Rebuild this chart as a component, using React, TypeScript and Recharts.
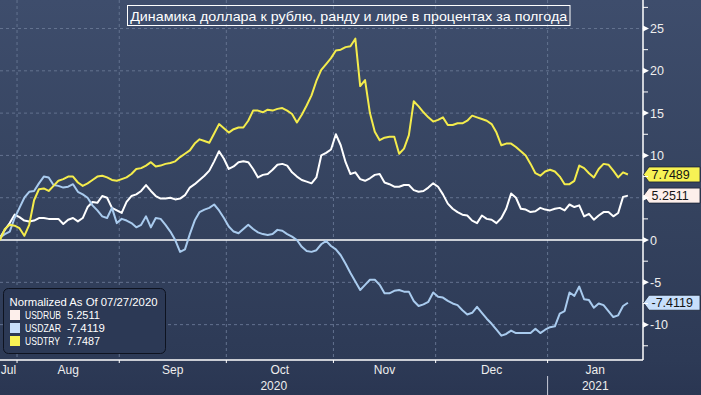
import { LineChart, Line, XAxis, YAxis, CartesianGrid, ReferenceLine, ReferenceDot, Legend } from 'recharts';

// trading-day index, 0 = 28 Jul 2020 (normalized as of 27 Jul)
const days = Array.from({ length: 130 }, (_, i) => i);

const usdRub = [
    0.3, 1.2, 2.0, 3.0, 2.7, 2.3, 2.2, 2.3, 2.6, 2.6,
    2.5, 2.5, 2.5, 1.9, 2.4, 2.6, 2.2, 2.6, 3.9, 4.5,
    4.4, 5.2, 5.0, 3.8, 3.5, 3.2, 4.5, 5.2, 5.4, 5.8,
    6.5, 5.8, 5.2, 4.9, 4.9, 5.0, 4.8, 4.9, 5.3, 6.2,
    6.6, 7.1, 7.6, 8.2, 9.3, 10.5, 9.6, 8.4, 8.7, 9.2,
    9.3, 9.2, 8.4, 7.4, 7.7, 7.8, 8.3, 8.9, 9.0, 8.8,
    8.0, 7.5, 7.1, 6.9, 6.7, 7.4, 10.0, 10.3, 10.7, 12.5,
    11.2, 9.2, 7.8, 8.0, 7.2, 7.0, 7.3, 7.7, 7.8, 6.8,
    6.6, 6.3, 6.3, 6.5, 6.5, 5.9, 5.7, 5.8, 6.2, 6.7,
    6.3, 5.4, 4.3, 3.7, 3.3, 3.0, 2.9, 2.3, 2.0, 2.9,
    2.5, 2.4, 2.0, 2.6, 3.7, 5.5, 5.0, 3.7, 3.6, 3.3,
    3.4, 3.8, 3.6, 3.5, 3.7, 3.8, 3.5, 4.2, 3.9, 4.1,
    2.8, 3.1, 2.4, 2.9, 3.3, 3.3, 2.8, 3.2, 5.1, 5.2511,
];

const usdZar = [
    0.3, 0.7, 1.0, 2.6, 3.8, 5.0, 5.7, 5.8, 6.7, 7.5,
    7.4, 6.5, 6.4, 6.2, 6.3, 6.6, 5.7, 5.4, 5.0, 4.1,
    3.5, 2.8, 2.6, 3.8, 2.0, 2.5, 2.3, 2.0, 1.5, 1.8,
    2.8, 1.5, 2.6, 2.5, 1.8, 1.0, 0.0, -1.4, -1.1, 0.7,
    2.3, 3.3, 3.6, 3.8, 4.2, 3.5, 2.6, 1.6, 1.0, 0.8,
    1.3, 1.8, 1.3, 0.9, 0.7, 0.6, 0.7, 1.2, 1.1, 0.7,
    0.4, 0.0, -0.8, -1.3, -1.4, -1.2, -0.5, -0.1, -0.7, -1.1,
    -1.8, -2.8, -3.9, -4.9, -5.9, -5.3, -4.7, -4.7, -5.3, -6.3,
    -6.3, -6.0, -5.9, -6.1, -6.1, -7.2, -7.8, -7.6, -7.3, -6.2,
    -6.7, -6.8, -7.2, -7.5, -7.7, -8.3, -8.8, -8.6, -7.9, -8.6,
    -9.3, -9.9, -10.6, -11.3, -11.1, -10.7, -11.0, -11.0, -11.0, -11.0,
    -10.5, -11.0, -10.6, -10.3, -10.2, -8.7, -8.4, -6.2, -6.6, -5.5,
    -7.0, -7.1, -8.0, -7.5, -7.7, -8.4, -9.1, -8.9, -7.8, -7.4119,
];

const usdTry = [
    0.0, 1.3, 1.8, 1.7, 1.4, 0.5, 1.8, 4.7, 6.0, 6.1,
    5.8, 6.4, 7.0, 7.2, 7.5, 7.5, 6.8, 6.4, 6.7, 7.1,
    7.5, 7.6, 7.4, 7.1, 7.0, 7.2, 7.4, 7.8, 8.4, 8.5,
    8.8, 9.2, 8.7, 8.8, 9.0, 9.1, 9.3, 9.8, 10.2, 10.6,
    11.4, 11.9, 11.7, 11.5, 12.6, 13.7, 13.2, 12.7, 13.1, 13.3,
    13.3, 14.1, 15.3, 15.3, 15.1, 15.4, 15.3, 15.5, 15.6, 15.3,
    14.9, 13.9, 14.8, 15.9, 17.1, 18.8, 20.1, 20.8, 21.5, 22.4,
    22.5, 22.8, 22.9, 23.8, 18.2, 18.9, 15.0, 12.8, 11.8, 12.1,
    12.2, 12.2, 10.2, 10.8, 12.4, 16.4, 15.8, 15.1, 14.5, 14.0,
    14.2, 14.5, 13.6, 13.6, 13.8, 13.8, 14.1, 14.7, 14.5, 14.3,
    14.1, 13.7, 12.7, 11.2, 11.4, 11.4, 11.0, 10.5, 10.0, 9.0,
    7.9, 7.6, 8.1, 8.3, 8.1, 7.5, 6.6, 6.6, 7.0, 8.8,
    8.5, 7.9, 7.4, 8.4, 9.0, 8.9, 8.2, 7.4, 8.0, 7.7489,
];

const seriesKeys = ['rub', 'zar', 'try'];
const seriesNames = ['USDRUB', 'USDZAR', 'USDTRY'];
const legendValues = ['5.2511', '-7.4119', '7.7487'];
const tagLabels = ['5.2511', '-7.4119', '7.7489'];

// month boundaries on the trading-day scale
const monthStarts = [3.5, 24.5, 46.5, 68.5, 89.5, 112.5];
const monthNames = ['Jul', 'Aug', 'Sep', 'Oct', 'Nov', 'Dec', 'Jan'];
const yearStart2021 = 112.5;
const yearNames = ['2020', '2021'];

const yTicks = [-12.5, -10, -7.5, -5, -2.5, 0, 2.5, 5, 7.5, 10, 12.5, 15, 17.5, 20, 22.5, 25, 27.5];
const gridY = [-10, -5, 5, 10, 15, 20, 25];

const X_END = 132.1;
const Y_DOMAIN: [number, number] = [-14.18, 28.37];

const FONT = '"Liberation Sans", Arial, sans-serif';
const lineColor: Record<string, string> = { rub: '#ffffff', zar: '#a9cbee', try: '#f4ec4c' };
const tagFill: Record<string, string> = { rub: '#fdefeb', zar: '#c7dffb', try: '#f7f254' };

const data = days.map((d, i) => ({ day: d, rub: usdRub[i], zar: usdZar[i], try: usdTry[i] }));

const monthEdges = [0, ...monthStarts, X_END];
const yearEdges = [0, yearStart2021, X_END];
const tickInfo = [
    ...monthStarts.map((v) => ({ v, kind: 'bound', label: '' })),
    ...monthNames.map((m, i) => ({ v: (monthEdges[i] + monthEdges[i + 1]) / 2, kind: 'month', label: m })),
    ...yearNames.map((y, i) => ({ v: (yearEdges[i] + yearEdges[i + 1]) / 2, kind: 'year', label: y })),
];
const xTicks = Array.from(new Set(tickInfo.map((d) => Math.round(d.v * 100) / 100))).sort((a, b) => a - b);

const renderXTick = (props: any) => {
    const { x, y, payload } = props;
    const infos = tickInfo.filter((d) => Math.abs(d.v - payload.value) < 0.01);
    return (
        <g>
            {infos.map((d, i) => {
                if (d.kind === 'bound') {
                    return (
                        <g key={i}>
                            <line x1={x} x2={x} y1={y} y2={y + 3} stroke="#ffffff" />
                            {Math.abs(d.v - yearStart2021) < 0.01 && (
                                <line x1={x} x2={x} y1={y + 16} y2={y + 35} stroke="#c8ccd8" />
                            )}
                        </g>
                    );
                }
                return (
                    <text key={i} x={x} y={d.kind === 'month' ? y + 10 : y + 26} dy="0.36em" textAnchor="middle"
                        fill="#eeeeee" fontSize={12} fontFamily={FONT}>
                        {d.label}
                    </text>
                );
            })}
        </g>
    );
};

const renderYTick = (props: any) => {
    const { x, y, payload } = props;
    const v = payload.value;
    if (v % 5 !== 0) {
        return <line x1={x} x2={x + 5} y1={y} y2={y} stroke="#ffffff" />;
    }
    return (
        <g>
            <path d={`M${x} ${y - 3} L${x + 6} ${y} L${x} ${y + 3} Z`} fill="#ffffff" />
            {v !== 5 && (
                <text x={x + 7} y={y} dy="0.36em" fill="#eeeeee" fontSize={12.5} fontFamily={FONT}>
                    {v}
                </text>
            )}
        </g>
    );
};

const ValueTag = ({ cx, cy, fill, text }: any) => {
    const h = 7.5;
    return (
        <g>
            <path d={`M${cx + 0.5} ${cy} L${cx + 6} ${cy - h} L700 ${cy - h} L700 ${cy + h} L${cx + 6} ${cy + h} Z`}
                fill={fill} stroke="#1b2233" strokeWidth={0.8} />
            <text x={cx + 8.5} y={cy} dy="0.36em" fill="#141414" fontSize={12.5} fontFamily={FONT}>
                {text}
            </text>
        </g>
    );
};

const nameWidths = [36, 36, 35];
const valueWidths = [33, 38, 33];

// legend keeps the series order (RUB, ZAR, TRY) like the original
const renderLegend = () => (
    <svg width={163} height={66} style={{ display: 'block' }}>
        <rect x={0.5} y={0.5} width={162} height={65} rx={5} fill="#2c3955" stroke="#0e1320" />
        <text x={6.5} y={14.7} dy="0.36em" fill="#ffffff" fontSize={10.5} fontFamily={FONT}
            textLength={148} lengthAdjust="spacingAndGlyphs">
            Normalized As Of 07/27/2020
        </text>
        {seriesKeys.map((k, i) => {
            const cy = 27 + i * 13;
            return (
                <g key={k}>
                    <rect x={7} y={cy - 5} width={10} height={10} fill={tagFill[k]} />
                    <text x={22} y={cy} dy="0.36em" fill="#ffffff" fontSize={10.5} fontFamily={FONT}
                        textLength={nameWidths[i]} lengthAdjust="spacingAndGlyphs">
                        {seriesNames[i]}
                    </text>
                    <text x={64} y={cy} dy="0.36em" fill="#ffffff" fontSize={10.5} fontFamily={FONT}
                        textLength={valueWidths[i]} lengthAdjust="spacingAndGlyphs">
                        {legendValues[i]}
                    </text>
                </g>
            );
        })}
    </svg>
);

export default function App() {
    const lastValues = [usdRub[129], usdZar[129], usdTry[129]];
    return (
        <div style={{
            position: 'absolute', left: 0, top: 0, width: 701, height: 395, overflow: 'hidden',
            background: 'linear-gradient(180deg, #3e4d6c 0%, #35435f 50%, #2d3a56 91%, #2a3652 100%)',
        }}>
            <LineChart width={701} height={395} data={data} margin={{ top: 0, right: 0, bottom: 0, left: 0 }}>
                <CartesianGrid horizontalValues={gridY} verticalValues={monthStarts}
                    stroke="#63728f" strokeDasharray="3 3" />
                <XAxis dataKey="day" type="number" domain={[0, X_END]} ticks={xTicks} interval={0}
                    tick={renderXTick} tickLine={false} tickSize={0} tickMargin={0}
                    axisLine={{ stroke: '#ffffff', strokeWidth: 1.5 }} height={35} allowDataOverflow />
                <YAxis orientation="right" type="number" domain={Y_DOMAIN} ticks={yTicks} interval={0}
                    tick={renderYTick} tickLine={false} tickSize={0} tickMargin={0}
                    axisLine={{ stroke: '#ffffff', strokeWidth: 1.5 }} width={58} allowDataOverflow />
                <ReferenceLine y={0} stroke="#ffffff" strokeWidth={1.5} />
                {seriesKeys.map((k, i) => (
                    <Line key={k} dataKey={k} name={seriesNames[i]} stroke={lineColor[k]} strokeWidth={2}
                        dot={false} activeDot={false} isAnimationActive={false} strokeLinejoin="round" />
                ))}
                {seriesKeys.map((k, i) => (
                    <ReferenceDot key={'tag' + k} x={X_END} y={lastValues[i]} r={0} ifOverflow="visible"
                        shape={(p: any) => <ValueTag cx={p.cx} cy={p.cy} fill={tagFill[k]} text={tagLabels[i]} />} />
                ))}
                <Legend layout="vertical" align="center" verticalAlign="middle" content={renderLegend}
                    wrapperStyle={{ left: 3, top: 288, width: 163, height: 66 }} />
            </LineChart>
            <svg width={701} height={40} style={{ position: 'absolute', left: 0, top: 0, pointerEvents: 'none' }}>
                <rect x={127.5} y={5.5} width={442.5} height={20} fill="none" stroke="#ffffff" strokeWidth={1} />
                <text x={348.7} y={15.7} dy="0.36em" textAnchor="middle" fill="#ffffff" fontSize={13.5}
                    fontFamily={FONT} textLength={437} lengthAdjust="spacingAndGlyphs">
                    Динамика доллара к рублю, ранду и лире в процентах за полгода
                </text>
            </svg>
        </div>
    );
}
